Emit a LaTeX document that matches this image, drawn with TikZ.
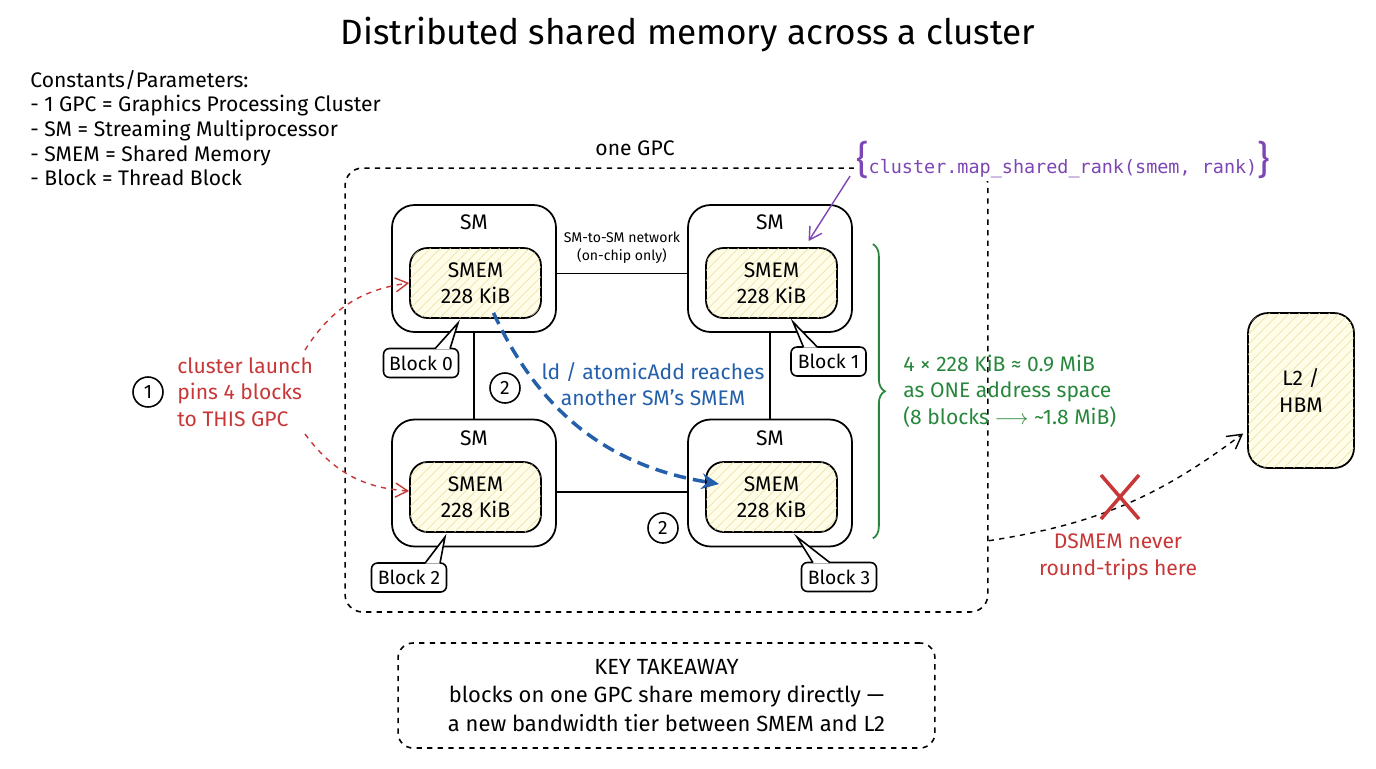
\documentclass[tikz,border=0pt]{standalone}
\usepackage{fontspec}
\setmainfont{Fira Sans}
\setmonofont{DejaVu Sans Mono}
\usetikzlibrary{positioning,calc,arrows.meta,patterns.meta,decorations.pathreplacing}

\definecolor{inkred}{RGB}{200,55,55}
\definecolor{inkblue}{RGB}{35,95,170}
\definecolor{inkgreen}{RGB}{40,135,60}
\definecolor{inkpurple}{RGB}{125,70,180}
\definecolor{hatchbg}{RGB}{255,253,232}
\definecolor{hatchline}{RGB}{232,222,160}

\tikzset{
  smbox/.style={draw, line width=1pt, rounded corners=0.45cm,
    minimum width=3.28cm, minimum height=2.54cm},
  smembox/.style={draw, line width=1pt, rounded corners=0.35cm,
    minimum width=2.62cm, minimum height=1.4cm, align=center,
    font=\fontsize{12}{15}\selectfont, fill=hatchbg,
    postaction={pattern={Lines[angle=45,distance=4pt,line width=0.4pt]}, pattern color=hatchline}},
  blockbox/.style={draw, line width=0.9pt, rounded corners=0.12cm, fill=white,
    minimum width=1.5cm, minimum height=0.58cm, inner sep=2pt, font=\fontsize{11}{13}\selectfont},
  numcircle/.style={draw, circle, line width=0.9pt, minimum size=0.6cm, inner sep=0pt,
    font=\fontsize{11}{13}\selectfont},
  link/.style={line width=0.9pt},
  redcurve/.style={inkred, dashed, line width=0.8pt, -{Straight Barb[length=7pt,width=8pt]}},
}

\begin{document}
\begin{tikzpicture}[x=0.02cm, y=-0.02cm, font=\fontsize{12}{15}\selectfont]
  \useasboundingbox (0,0) rectangle (1376,768);

  % title and legend
  \node (title) at (688,35) {\fontsize{20}{24}\selectfont Distributed shared memory across a cluster};
  \node[anchor=north west, align=left, inner sep=0pt] (legend) at (30,70)
    {Constants/Parameters:\\[-1pt]
     - 1 GPC = Graphics Processing Cluster\\[-1pt]
     - SM = Streaming Multiprocessor\\[-1pt]
     - SMEM = Shared Memory\\[-1pt]
     - Block = Thread Block};

  % the GPC
  \node[draw, dashed, line width=0.9pt, rounded corners=0.35cm,
        minimum width=12.86cm, minimum height=8.88cm] (gpc) at (666.5,390) {};
  \node (gpclbl) at (635,148) {one GPC};

  % four SMs
  \node[smbox] (sm0) at (474,268.5) {};
  \node[smbox] (sm1) at (770,268.5) {};
  \node[smbox] (sm2) at (474,483) {};
  \node[smbox] (sm3) at (770,483) {};
  \node (sm0lbl) at (474,222) {SM};
  \node (sm1lbl) at (770,222) {SM};
  \node (sm2lbl) at (474,438) {SM};
  \node (sm3lbl) at (770,438) {SM};
  \node[smembox] (smem0) at (475.5,283) {SMEM\\228 KiB};
  \node[smembox] (smem1) at (771.5,283) {SMEM\\228 KiB};
  \node[smembox] (smem2) at (475.5,497) {SMEM\\228 KiB};
  \node[smembox] (smem3) at (771.5,497) {SMEM\\228 KiB};

  % SM-to-SM links
  \draw[link] ($(sm0.east)+(0,5)$) -- ($(sm1.west)+(0,5)$);
  \draw[link] (sm0.south) -- (sm2.north);
  \draw[link] (sm1.south) -- (sm3.north);
  \draw[link] ($(sm2.east)+(0,9)$) -- ($(sm3.west)+(0,9)$);
  \node[align=center, font=\fontsize{8}{10}\selectfont] (netlbl) at (622,248)
    {SM-to-SM network\\(on-chip only)};

  % block callouts
  \node[blockbox] (blk0) at (421,363) {Block 0};
  \node[blockbox] (blk1) at (828.5,361.5) {Block 1};
  \node[blockbox] (blk2) at (409,577.5) {Block 2};
  \node[blockbox] (blk3) at (839,577) {Block 3};
  \fill[white] ($(blk0.north)+(14,1.5)$) -- (458,323) -- ($(blk0.north)+(29,1.5)$) -- cycle;
  \draw[line width=0.9pt] ($(blk0.north)+(14,1)$) -- (458,323) -- ($(blk0.north)+(29,1)$);
  \fill[white] ($(blk1.north)+(-25,1.5)$) -- (793,322) -- ($(blk1.north)+(-11,1.5)$) -- cycle;
  \draw[line width=0.9pt] ($(blk1.north)+(-25,1)$) -- (793,322) -- ($(blk1.north)+(-11,1)$);
  \fill[white] ($(blk2.north)+(16,1.5)$) -- (445,537) -- ($(blk2.north)+(31,1.5)$) -- cycle;
  \draw[line width=0.9pt] ($(blk2.north)+(16,1)$) -- (445,537) -- ($(blk2.north)+(31,1)$);
  \fill[white] ($(blk3.north)+(-26,1.5)$) -- (797,537) -- ($(blk3.north)+(-9,1.5)$) -- cycle;
  \draw[line width=0.9pt] ($(blk3.north)+(-26,1)$) -- (797,537) -- ($(blk3.north)+(-9,1)$);

  % step 1: cluster launch
  \node[numcircle] (one) at (148,392) {1};
  \node[inkred, align=left, anchor=west, inner sep=0pt] (launch) at (177,392)
    {cluster launch\\pins 4 blocks\\to THIS GPC};
  \coordinate (launchup) at (305,350);
  \coordinate (launchdn) at (305,434);
  \draw[redcurve] (launchup) to[bend left=25] (smem0.west);
  \draw[redcurve] (launchdn) to[bend right=25] ($(smem2.west)+(0,-6)$);

  % step 2: remote access
  \node[numcircle] (two) at (505,388) {2};
  \node[numcircle] (twob) at (663,528) {2};
  \node[inkblue, align=center] (remote) at (653,384)
    {ld / atomicAdd reaches\\another SM's SMEM};
  \draw[inkblue, line width=2pt, dash pattern=on 7pt off 4pt, -{Stealth[length=10pt,width=9pt]}]
    ($(smem0.south)+(18,-6)$) to[bend right=28] ($(smem3.west)+(14,-13)$);

  % map_shared_rank note
  \node[inkpurple, fill=white, inner sep=1pt] (mapnote) at (1063,160)
    {{\fontsize{22}{22}\selectfont\{}\texttt{\fontsize{10.5}{12}\selectfont cluster.map\_shared\_rank(smem, rank)}{\fontsize{22}{22}\selectfont\}}};
  \draw[inkpurple, line width=0.8pt, -{Straight Barb[length=7pt,width=8pt]}]
    ($(mapnote.west)+(-4,16)$) -- ($(smem1.north)+(37,-6)$);

  % address space brace
  \draw[inkgreen, line width=1pt, decorate, decoration={brace, amplitude=0.24cm}]
    ($(sm1.north east)+(20,40)$) -- ($(sm3.south east)+(20,-9)$);
  \node[inkgreen, align=left, anchor=west, inner sep=0pt] (addrnote) at (903,391)
    {4 × 228 KiB ≈ 0.9 MiB\\as ONE address space\\(8 blocks $\longrightarrow$ \textasciitilde 1.8 MiB)};

  % L2 / HBM
  \node[smembox, rounded corners=0.4cm, minimum width=2.12cm, minimum height=3.1cm]
    (l2) at (1301,390.5) {L2 /\\HBM};
  \coordinate (gpcout) at ($(gpc.south east)+(0,-72)$);
  \draw[dashed, line width=0.8pt, -{Straight Barb[length=8pt,width=9pt]}]
    (gpcout) to[bend right=14] ($(l2.west)+(-4,43)$);
  \node (nocross) at (1120,497) {};
  \draw[inkred, line width=2pt] ($(nocross)+(-19,-22)$) -- ($(nocross)+(19,22)$);
  \draw[inkred, line width=2pt] ($(nocross)+(19,-22)$) -- ($(nocross)+(-19,22)$);
  \node[inkred, align=center] (nevernote) at (1118,557) {DSMEM never\\round-trips here};

  % takeaway
  \node[draw, dashed, line width=0.9pt, rounded corners=0.3cm, align=center,
        minimum width=10.74cm, minimum height=2.1cm,
        font=\fontsize{12.5}{16}\selectfont] (takeaway) at (666.5,695.5)
    {KEY TAKEAWAY\\blocks on one GPC share memory directly —\\a new bandwidth tier between SMEM and L2};
\end{tikzpicture}
\end{document}
